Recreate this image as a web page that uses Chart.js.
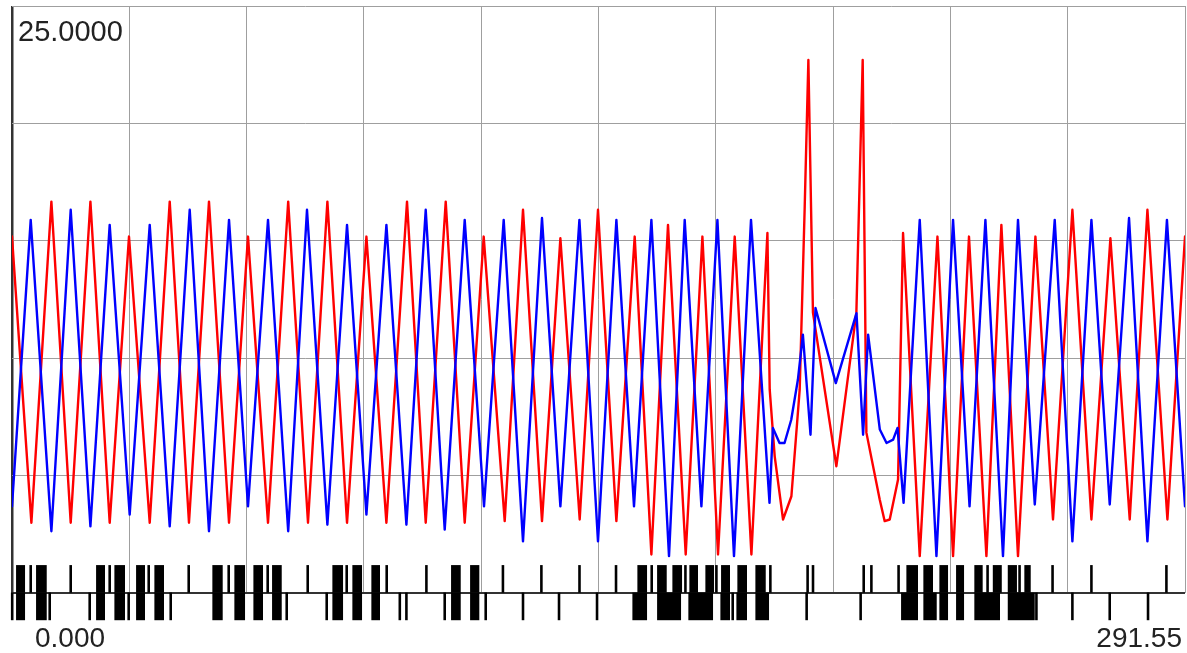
<!DOCTYPE html>
<html>
<head>
<meta charset="utf-8">
<script src="https://cdn.jsdelivr.net/npm/chart.js@4.4.1/dist/chart.umd.min.js"></script>
<style>
  html, body { margin: 0; padding: 0; background: #ffffff; }
  #wrap { width: 1187px; height: 653px; position: relative; }
</style>
</head>
<body>
<div id="wrap"><canvas id="c"></canvas></div>
<script>
// ---------- data ----------
const X_MIN = 0;
const X_MAX = 291.55;
const Y_MIN = 0;
const Y_MAX = 25;
const X_GRID_DIVISIONS = 10;
const Y_GRID = [0, 5, 10, 15, 20, 25];
const Y_TICK_LABEL = '25.0000';
const X_END_LABELS = ['0.000', '291.55'];

// red trace (time, value)
const RED_T = [0, 4.82, 9.79, 14.59, 19.49, 24.28, 29.08, 34.23, 39.2, 43.99, 48.96, 53.94, 58.66, 63.63, 68.65, 73.57, 78.39, 83.27, 88.09, 93.06, 98.18, 102.83, 107.8, 112.52, 117.24, 122.46, 127.01, 131.73, 136.3, 141.1, 145.65, 150.22, 154.77, 158.92, 163.05, 167.45, 171.6, 175.48, 179.63, 183.78, 187.76, 188.33, 189.57, 191.64, 193.72, 195.78, 197.03, 197.94, 199.08, 204.9, 209.87, 211.44, 212.36, 215.67, 216.91, 218.16, 220.23, 221.47, 225.62, 230.02, 233.9, 237.86, 242.19, 245.91, 250.04, 254.37, 258.74, 263.56, 268.29, 273.01, 277.81, 282.21, 287.18, 291.55];
const RED_V = [15.18, 2.99, 16.67, 2.99, 16.67, 2.99, 15.18, 2.99, 16.67, 2.99, 16.67, 2.99, 15.18, 2.99, 16.67, 2.99, 16.67, 2.99, 15.18, 2.99, 16.67, 2.99, 16.67, 2.99, 15.18, 3.06, 16.32, 3.06, 15.11, 3.13, 16.32, 3.06, 15.18, 1.64, 15.68, 1.64, 15.18, 1.64, 15.18, 1.64, 15.33, 8.66, 5.82, 3.13, 4.12, 8.66, 16.46, 22.70, 11.94, 5.40, 11.94, 22.70, 6.83, 3.98, 3.06, 3.13, 4.83, 15.33, 1.57, 15.18, 1.57, 15.18, 1.57, 15.68, 1.57, 15.18, 3.13, 16.32, 3.13, 15.11, 3.13, 16.32, 3.13, 15.18];

// blue trace (time, value)
const BLUE_T = [0, 4.65, 9.79, 14.59, 19.49, 24.28, 29.25, 34.23, 39.2, 44.17, 48.96, 53.94, 58.66, 63.63, 68.65, 73.32, 78.39, 83.27, 88.09, 93.06, 98.03, 102.83, 107.55, 112.52, 117.32, 122.21, 127.01, 131.73, 136.3, 141.03, 145.65, 150.22, 154.6, 158.92, 163.3, 167.2, 171.35, 175.33, 179.45, 183.68, 188.28, 189.12, 190.77, 192.01, 193.68, 195.34, 196.58, 198.47, 199.71, 204.76, 209.9, 211.54, 212.79, 215.7, 217.37, 219.01, 220.1, 221.6, 225.62, 229.77, 233.9, 238.0, 241.94, 246.31, 250.04, 254.21, 259.17, 263.56, 268.29, 272.84, 277.64, 282.21, 287.06, 291.55];
const BLUE_V = [3.69, 15.89, 2.63, 16.32, 2.84, 15.68, 3.34, 15.68, 2.84, 16.32, 2.63, 15.89, 3.69, 15.89, 2.63, 16.32, 2.91, 15.68, 3.34, 15.68, 2.91, 16.32, 2.70, 15.89, 3.69, 15.89, 2.20, 15.97, 3.69, 15.89, 2.20, 15.89, 3.69, 15.89, 1.57, 15.89, 3.69, 15.89, 1.57, 15.89, 3.84, 7.03, 6.39, 6.39, 7.38, 9.09, 11.0, 6.74, 12.14, 8.94, 11.92, 6.74, 11.0, 6.96, 6.39, 6.53, 7.03, 3.84, 15.89, 1.57, 15.89, 3.69, 15.89, 1.57, 15.89, 3.77, 15.89, 2.20, 15.89, 3.77, 15.97, 2.20, 15.89, 3.69];

// spike raster: upper and lower rows (single spikes, and dense bursts as [start, end])
const UPPER_ROW = 0.6;
const LOWER_ROW = -0.57;
const UPPER_SPIKES = [4.65, 14.59, 24.28, 33.98, 43.92, 53.86, 63.55, 73.5, 83.19, 93.13, 103.0, 122.02, 131.58, 141.05, 150.13, 159.0, 167.38, 175.08, 188.49, 197.75, 199.09, 211.69, 213.6, 220.36, 242.48, 250.43, 258.63, 268.29, 286.93];
const LOWER_SPIKES = [0.05, 9.37, 19.31, 29.0, 39.45, 68.28, 78.22, 96.39, 98.03, 107.55, 117.74, 127.01, 135.96, 145.41, 179.13, 197.51, 210.93, 254.62, 263.56, 272.84, 282.36];
const UPPER_BURSTS = [[1.09,3.16],[6.06,8.55],[20.98,23.04],[25.53,28.01],[30.92,32.98],[35.47,37.7],[49.88,52.29],[55.35,57.84],[60.08,62.31],[64.72,66.96],[79.71,82.2],[84.68,86.92],[89.4,91.39],[109.21,111.45],[113.94,116.07],[155.52,157.76],[160.42,162.65],[164.22,166.46],[168.44,170.43],[172.42,174.41],[176.32,178.38],[180.37,182.61],[184.85,187.26],[222.38,225.11],[226.6,228.84],[230.58,232.57],[234.73,236.55],[239.27,241.18],[243.86,245.93],[247.58,249.7],[251.7,253.12]];
const LOWER_BURSTS = [[1.09,3.16],[6.06,8.55],[20.98,23.04],[25.53,28.01],[30.92,32.98],[35.47,37.7],[49.88,52.29],[55.35,57.84],[60.08,62.31],[64.72,66.96],[79.71,82.2],[84.68,86.92],[89.4,91.39],[109.21,111.45],[113.94,116.07],[154.28,157.76],[160.42,166.21],[168.19,174.16],[176.15,178.38],[180.13,182.61],[184.85,188.08],[221.06,225.11],[226.6,229.76],[230.58,232.57],[234.73,236.55],[239.27,245.49],[247.58,254.12]];

// ---------- chart ----------
const pairs = (ts, vs) => ts.map((t, i) => ({ x: t, y: vs[i] }));
const SPIKE_HALF = 0.24;           // drawn half-width of a single spike tick (x units)
const FONT = '"Liberation Sans", Arial, sans-serif';
const GRID_GRAY = '#9f9f9f';
const AXIS_DARK = '#333333';

const rasterData = []
  .concat(UPPER_BURSTS.map(b => ({ x: b, y: UPPER_ROW })))
  .concat(LOWER_BURSTS.map(b => ({ x: b, y: LOWER_ROW })))
  .concat(UPPER_SPIKES.map(t => ({ x: [t - SPIKE_HALF, t + SPIKE_HALF], y: UPPER_ROW })))
  .concat(LOWER_SPIKES.map(t => ({ x: [t - SPIKE_HALF, t + SPIKE_HALF], y: LOWER_ROW })));

const endLabels = {
  id: 'endLabels',
  afterDraw(chart) {
    const { ctx, chartArea, scales: { x } } = chart;
    ctx.save();
    ctx.font = '28px ' + FONT;
    ctx.fillStyle = '#222222';
    ctx.textBaseline = 'middle';
    ctx.textAlign = 'left';
    ctx.fillText(X_END_LABELS[0], x.getPixelForValue(X_MIN) + 23, chartArea.bottom + 46);
    ctx.textAlign = 'right';
    ctx.fillText(X_END_LABELS[1], x.getPixelForValue(X_MAX) - 3, chartArea.bottom + 46);
    ctx.restore();
  }
};

const lineStyle = {
  borderWidth: 2.4, pointRadius: 0, pointHoverRadius: 0, tension: 0, fill: false,
  borderJoinStyle: 'round', borderCapStyle: 'round'
};

new Chart(document.getElementById('c'), {
  type: 'line',
  data: {
    datasets: [
      Object.assign({ label: 'blue', data: pairs(BLUE_T, BLUE_V), order: 1, borderColor: '#0000ff' }, lineStyle),
      Object.assign({ label: 'red', data: pairs(RED_T, RED_V), order: 2, borderColor: '#ff0000' }, lineStyle),
      {
        type: 'bar', label: 'raster', indexAxis: 'y', order: 3, clip: false,
        data: rasterData,
        backgroundColor: '#000000', borderWidth: 0, barThickness: 27
      }
    ]
  },
  options: {
    responsive: true,
    maintainAspectRatio: false,
    animation: false,
    events: [],
    layout: { padding: { left: 0, right: 2, top: 6, bottom: 60 } },
    plugins: { legend: { display: false }, tooltip: { enabled: false } },
    scales: {
      x: {
        type: 'linear', min: X_MIN, max: X_MAX, offset: false,
        afterBuildTicks: s => {
          s.ticks = Array.from({ length: X_GRID_DIVISIONS + 1 }, (_, i) => ({ value: X_MIN + (X_MAX - X_MIN) * i / X_GRID_DIVISIONS }));
        },
        ticks: { display: false },
        border: { display: false },
        grid: {
          offset: false,
          drawTicks: false,
          color: c => (c.tick && c.tick.value === X_MIN ? AXIS_DARK : GRID_GRAY),
          lineWidth: c => (c.tick && c.tick.value === X_MIN ? 2.5 : 1)
        }
      },
      y: {
        type: 'linear', min: Y_MIN, max: Y_MAX, offset: false, beginAtZero: false,
        afterBuildTicks: s => { s.ticks = Y_GRID.map(v => ({ value: v })); },
        ticks: {
          mirror: true, align: 'start', padding: 6, labelOffset: 12,
          color: '#222222', font: { size: 29, family: FONT },
          callback: v => (v === Y_MAX ? Y_TICK_LABEL : '')
        },
        border: { display: false },
        grid: {
          offset: false,
          drawTicks: false,
          color: c => (c.tick && c.tick.value === Y_MIN ? AXIS_DARK : GRID_GRAY),
          lineWidth: c => (c.tick && c.tick.value === Y_MIN ? 2 : 1)
        }
      }
    }
  },
  plugins: [endLabels]
});
</script>
</body>
</html>
